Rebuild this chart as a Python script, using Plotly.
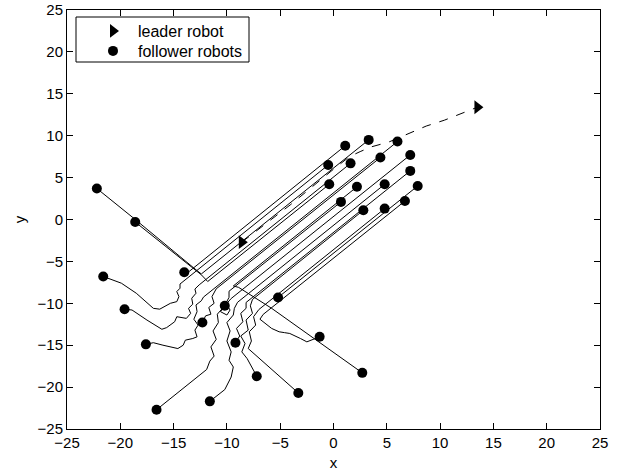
import plotly.graph_objects as go

# ---- data ----
initial_x = [-22.2, -18.6, -21.6, -19.6, -17.6, -16.6, -11.6, -14.0,
             -12.3, -10.2, -9.2, -7.2, -3.3, -5.2, -1.3, 2.7]
initial_y = [3.7, -0.3, -6.8, -10.7, -14.9, -22.7, -21.7, -6.3,
             -12.3, -10.3, -14.7, -18.7, -20.7, -9.3, -14.0, -18.3]

final_x = [3.3, -0.4, -0.5, 1.6, 6.0, 7.2, 4.8, 1.1,
           4.4, 0.7, 7.2, 2.8, 4.8, 7.9, 6.7, 2.2]
final_y = [9.5, 4.2, 6.5, 6.7, 9.3, 7.7, 4.2, 8.8,
           7.4, 2.1, 5.8, 1.1, 1.3, 4.0, 2.2, 3.9]

# intermediate way-points of each follower path (x list, y list)
waypoints = [
    ([-18.5, -12.9, -12.4], [-0.1, -6.0, -6.5]),
    ([-12.4, -11.8], [-6.6, -7.4]),
    ([-19.9, -18.5, -16.9, -16.3, -15.3, -14.7, -14.5, -14.7, -14.4, -14.4],
     [-7.6, -8.8, -10.6, -10.7, -10.0, -9.8, -9.2, -8.6, -8.2, -7.7]),
    ([-18.9, -17.5, -16.1, -15.65, -14.9, -14.7, -13.8, -13.4, -13.6, -13.2, -13.3, -12.9, -13.0, -12.6],
     [-10.8, -12.0, -13.1, -12.9, -12.2, -11.6, -11.8, -11.2, -10.6, -10.1, -9.4, -8.8, -8.3, -7.8]),
    ([-16.9, -16.0, -15.3, -14.6, -14.1, -13.9, -13.2, -12.8, -13.0, -12.7, -13.1, -12.8, -12.9, -12.4, -12.2],
     [-14.7, -15.0, -15.2, -15.4, -15.0, -14.4, -14.2, -14.0, -13.2, -12.6, -11.9, -11.0, -10.2, -9.7, -9.26]),
    ([-11.9, -11.6, -11.2, -11.5, -11.0, -11.3, -10.8, -10.9, -10.4, -9.6],
     [-17.9, -16.9, -16.3, -15.2, -14.3, -13.3, -12.3, -11.3, -10.6, -9.43]),
    ([-10.2, -9.6, -9.4, -9.8, -9.6, -10.0, -9.7, -10.0, -9.4, -9.3, -9.0],
     [-20.3, -18.8, -17.6, -16.8, -15.8, -14.5, -13.3, -12.3, -11.4, -10.6, -9.88]),
    ([-13.7], [-6.36]),
    ([-12.0, -11.5, -11.7, -11.2, -11.4, -11.0],
     [-11.5, -11.3, -10.5, -10.0, -9.2, -8.27]),
    ([-10.6, -10.0, -9.7, -10.1, -9.8, -9.8],
     [-11.0, -11.4, -10.8, -10.0, -9.3, -8.56]),
    ([-8.8, -9.1, -8.5, -8.7, -8.2, -8.2],
     [-13.9, -13.0, -12.2, -11.2, -10.6, -9.9]),
    ([-8.1, -8.6, -8.3, -8.7, -8.0, -8.2, -7.6, -7.8, -7.6],
     [-16.6, -15.8, -14.8, -13.9, -13.2, -12.0, -11.2, -10.3, -9.54]),
    ([-8.0, -7.7, -7.9, -7.3, -7.5, -7.0],
     [-15.4, -14.5, -13.4, -12.6, -11.6, -10.74]),
    ([], []),
    ([-2.2, -2.5, -3.1, -4.1, -4.6, -5.1, -5.8, -6.3, -6.9, -6.6],
     [-14.4, -14.6, -14.2, -13.6, -13.5, -13.4, -13.0, -12.5, -11.9, -11.33]),
    ([-5.8, -8.9, -9.4], [-10.6, -8.1, -7.93]),
]

leader_x = [-8.6, -4.0, 0.0, 1.5, 2.5, 3.5, 5.2, 7.2, 8.7, 10.4, 12.1, 13.5]
leader_y = [-2.7, 1.8, 6.0, 7.5, 8.1, 8.65, 9.25, 10.3, 11.15, 11.85, 12.75, 13.4]

tick_vals = [-25, -20, -15, -10, -5, 0, 5, 10, 15, 20, 25]

# ---- build figure ----
px, py = [], []
for i, (wx, wy) in enumerate(waypoints):
    px += [initial_x[i]] + wx + [final_x[i], None]
    py += [initial_y[i]] + wy + [final_y[i], None]

fig = go.Figure()
fig.add_trace(go.Scatter(x=px, y=py, mode="lines", line=dict(color="black", width=1),
                         showlegend=False, hoverinfo="skip"))
fig.add_trace(go.Scatter(x=leader_x, y=leader_y, mode="lines",
                         line=dict(color="black", width=1, dash="9px,9px"),
                         showlegend=False, hoverinfo="skip"))
fig.add_trace(go.Scatter(x=[leader_x[0], leader_x[-1]], y=[leader_y[0], leader_y[-1]],
                         mode="markers", name="leader robot", legend="legend",
                         marker=dict(symbol="triangle-right", size=12, color="black")))
fig.add_trace(go.Scatter(x=initial_x + final_x, y=initial_y + final_y,
                         mode="markers", name="follower robots", legend="legend2",
                         marker=dict(symbol="circle", size=10, color="black")))

axis_common = dict(range=[-25, 25], tickvals=tick_vals, ticks="inside", ticklen=6,
                   tickcolor="black", showline=True, linecolor="black", linewidth=1,
                   mirror="ticks", showgrid=False, zeroline=False, automargin=False,
                   tickfont=dict(size=15, color="black"))
fig.update_xaxes(**axis_common, title=dict(text="x", font=dict(size=15, color="black"), standoff=7))
fig.update_yaxes(**axis_common, title=dict(text="y", font=dict(size=15, color="black"), standoff=8))

# legend frame (pixel-matched to the reference)
W, H, L, T, B, R = 622, 473, 67, 10, 44, 22
pw, ph = W - L - R, H - T - B
fig.add_shape(type="rect", xref="paper", yref="paper",
              x0=(76 - L) / pw, x1=(249 - L) / pw,
              y0=(H - B - 62) / ph, y1=(H - B - 17) / ph,
              line=dict(color="black", width=1), fillcolor="white", layer="above")

legend_common = dict(x=(88 - L) / pw, xanchor="left", yanchor="top",
                     borderwidth=0, bgcolor="rgba(0,0,0,0)",
                     font=dict(size=16), itemwidth=40, tracegroupgap=0)
fig.update_layout(
    width=W, height=H,
    margin=dict(l=L, r=R, t=T, b=B, autoexpand=False),
    paper_bgcolor="white", plot_bgcolor="white",
    font=dict(family="Liberation Sans, Arial, Helvetica, sans-serif", color="black"),
    legend=dict(y=(H - B - 14) / ph, **legend_common),
    legend2=dict(y=(H - B - 34) / ph, **legend_common),
)

fig.write_html("out.html")
